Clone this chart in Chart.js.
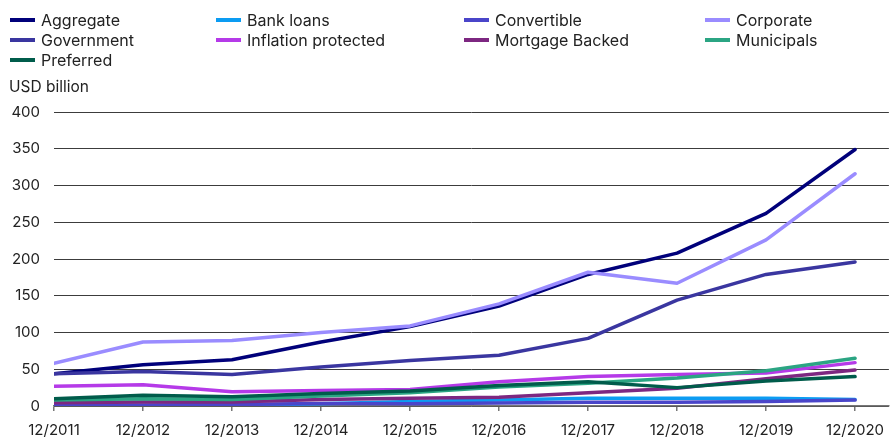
<!DOCTYPE html>
<html>
<head>
<meta charset="utf-8">
<script src="https://cdn.jsdelivr.net/npm/chart.js@4"></script>
<style>
body{margin:0;background:#fff;font-family:Inter,"Noto Sans",sans-serif;color:#222;}
#wrap{position:relative;width:894px;height:439px;}
#wrap canvas{position:absolute;left:0;top:0;}
.lg{position:absolute;font-size:16px;line-height:20px;white-space:nowrap;}
.lg i{position:absolute;left:-31px;top:8px;width:25px;height:4px;}
#unit{position:absolute;left:9px;top:77px;font-size:15.5px;line-height:20px;}
</style>
</head>
<body>
<div id="wrap">
<canvas id="grafico"></canvas>
<div id="unit">USD billion</div>
</div>
<script>
/* data */
const years = ["12/2011","12/2012","12/2013","12/2014","12/2015","12/2016","12/2017","12/2018","12/2019","12/2020"];
const yTicks = [0,50,100,150,200,250,300,350,400];

const aggregate   = [44,56,63,87,108,136,179,208,262,349];
const bankLoans   = [0,0.5,1,3,6,8,10.5,10.5,10.5,9];
const convertible = [1,1.5,2,3.5,3,4,5,5,6,8];
const corporate   = [58,87,89,100,109,139,182,167,226,316];
const government  = [44,47,43,53,62,69,92,144,179,196];
const inflation   = [27,29,19.5,21,22.5,33,40,43,45,59];
const mortgage    = [4.5,5.5,5.5,9,10.5,12,18,24,37,49];
const municipals  = [8,10,9,13.5,18,26,31,38,48,65];
const preferred   = [10,14.5,12.5,17,20.5,28,33,25,34,40];

const series = [
  ["Aggregate", aggregate, "#00007a"],
  ["Bank loans", bankLoans, "#0c9cf2"],
  ["Convertible", convertible, "#4a45c9"],
  ["Corporate", corporate, "#9a8cff"],
  ["Government", government, "#3a36a0"],
  ["Inflation protected", inflation, "#b53ae8"],
  ["Mortgage Backed", mortgage, "#7d2781"],
  ["Municipals", municipals, "#2ba583"],
  ["Preferred", preferred, "#005c4b"]
];

/* legend html, 4 columns */
const colX = [41,247,495,736];
const wrap = document.getElementById("wrap");
series.forEach(function(s,i){
  const d = document.createElement("div");
  d.className = "lg";
  d.style.left = colX[i%4] + "px";
  d.style.top = (10 + Math.floor(i/4)*20) + "px";
  d.innerHTML = '<i style="background:' + s[2] + '"></i>' + s[0];
  wrap.appendChild(d);
});

Chart.defaults.font.family = "Inter, 'Noto Sans', sans-serif";
Chart.defaults.font.size = 15;
Chart.defaults.color = "#222";

const datasets = series.map(function(s,i){
  return {
    label:s[0],
    data:s[1].map(function(v,k){ return {x:k, y:v}; }),
    borderColor:s[2],
    backgroundColor:s[2],
    borderWidth:3.5,
    borderCapStyle:"round",
    borderJoinStyle:"round",
    pointRadius:0,
    tension:0,
    order:series.length - i
  };
});

new Chart(document.getElementById("grafico"),{
  type:"line",
  data:{datasets:datasets},
  options:{
    responsive:true,
    maintainAspectRatio:false,
    animation:false,
    layout:{padding:{top:112,left:0,right:0,bottom:0}},
    plugins:{legend:{display:false},tooltip:{enabled:false}},
    scales:{
      x:{
        type:"linear",
        min:0,
        max:9.38,
        afterFit:function(sc){ sc.height = 33; },
        ticks:{
          stepSize:1,
          includeBounds:false,
          autoSkip:false,
          maxRotation:0,
          padding:10,
          callback:function(v){ return years[v]; }
        },
        grid:{drawOnChartArea:false, color:"#777", lineWidth:1.5, tickLength:5},
        border:{display:true, color:"#777", width:1.5}
      },
      y:{
        min:yTicks[0],
        max:yTicks[yTicks.length-1],
        afterFit:function(sc){ sc.width = 54; },
        afterBuildTicks:function(sc){ sc.ticks = yTicks.map(function(v){ return {value:v}; }); },
        ticks:{padding:14},
        grid:{color:"#3c3c3c", lineWidth:1, drawTicks:false},
        border:{display:false}
      }
    }
  }
});
</script>
</body>
</html>
